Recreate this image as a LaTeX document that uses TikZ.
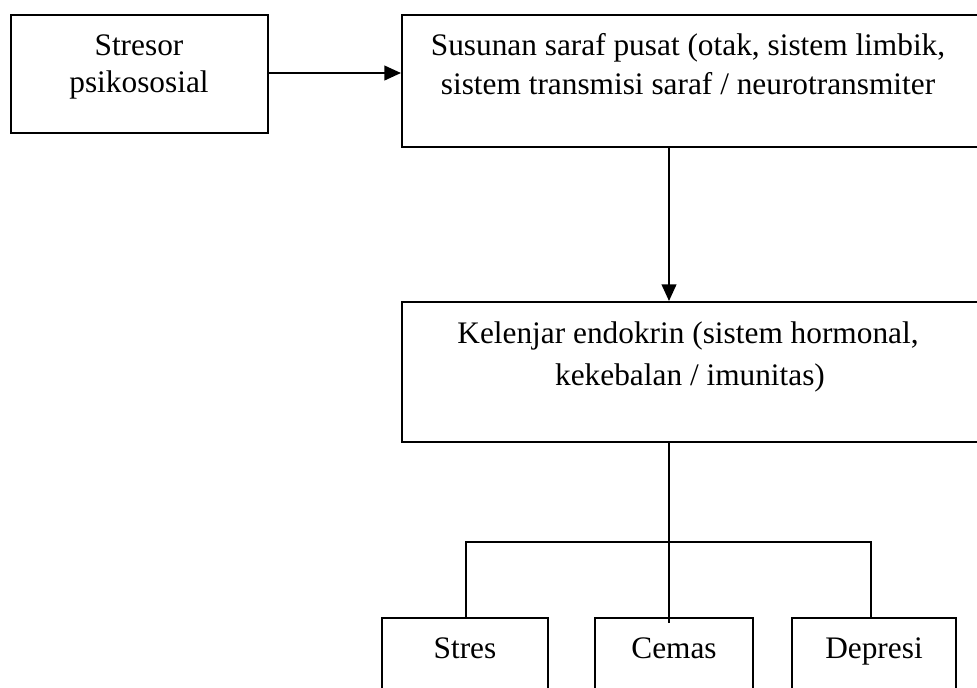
\documentclass[tikz,border=0pt]{standalone}
\usepackage{fontspec}
\setmainfont{Liberation Serif}
\usetikzlibrary{arrows.meta,fit}
\begin{document}
\begin{tikzpicture}[x=0.75pt,y=-0.75pt,
  box/.style={draw, line width=1.5pt, inner sep=0pt},
  sbox/.style={draw, line width=1.1pt, inner sep=0pt},
  lbl/.style={font=\fontsize{23.5}{28}\selectfont, inner sep=0pt, anchor=base},
  arr/.style={line width=1.6pt, -{Triangle[length=12.5pt,width=11pt]}},
  con/.style={line width=1.1pt}]
\useasboundingbox (0,0) rectangle (977,687);
\clip (0,0) rectangle (977,687);
\fill[white] (0,0) rectangle (977,687);

% boxes
\node[box, fit={(11,15) (268,133)}] (sp) {};
\node[box, fit={(402,15) (1010,147)}] (ssp) {};
\node[box, fit={(402,302) (1010,442)}] (ke) {};
\node[sbox, fit={(382,618) (548,710)}] (st) {};
\node[sbox, fit={(595,618) (753,710)}] (ce) {};
\node[sbox, fit={(792,618) (956,710)}] (dp) {};

% texts
\node[lbl] (sp1) at (139,55) {Stresor};
\node[lbl] (sp2) at (139,92) {psikososial};
\node[lbl] (ssp1) at (688,55) {Susunan saraf pusat (otak, sistem limbik,};
\node[lbl] (ssp2) at (688,94) {sistem transmisi saraf / neurotransmiter};
\node[lbl] (ke1) at (688,343) {Kelenjar endokrin (sistem hormonal,};
\node[lbl] (ke2) at (690,385) {kekebalan / imunitas)};
\node[lbl] (st1) at (465,658) {Stres};
\node[lbl] (ce1) at (674,658) {Cemas};
\node[lbl] (dp1) at (874,658) {Depresi};

% connectors
\coordinate (j) at (669,542);
\coordinate (l) at (466,542);
\coordinate (r) at (871,542);
\coordinate (a) at (268,73);
\draw[arr] (a) -- (a -| ssp.west);
\draw[arr] (ssp.south -| j) -- (ke.north -| j);
\draw[con] (ke.south -| j) -- ([yshift=-4pt]ce.north -| j);
\draw[con] (l |- st.north) -- (l) -- (r) -- (r |- dp.north);
\end{tikzpicture}
\end{document}
